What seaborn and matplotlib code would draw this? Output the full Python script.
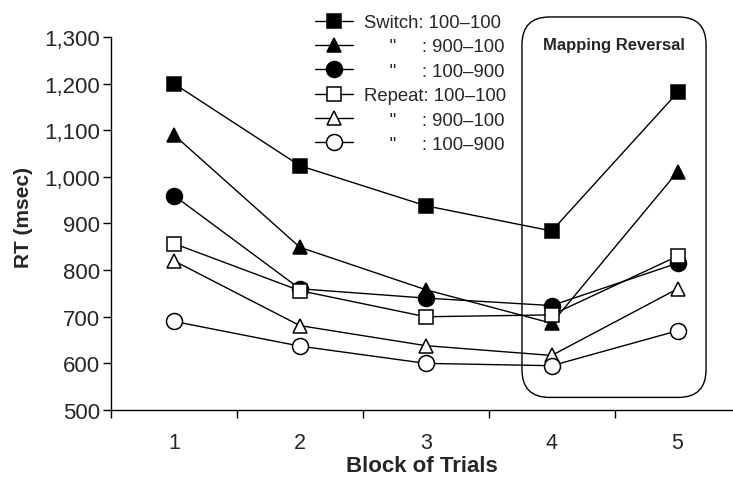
import numpy as np
import pandas as pd
import seaborn as sns
import matplotlib.pyplot as plt
from matplotlib.patches import FancyBboxPatch
from matplotlib.ticker import FuncFormatter

# Data
blocks = [1, 2, 3, 4, 5]
switch_100_100 = [1200, 1024, 938, 884, 1181]
switch_900_100 = [1090, 849, 758, 686, 1011]
switch_100_900 = [960, 760, 740, 724, 815]
repeat_100_100 = [857, 756, 700, 704, 830]
repeat_900_100 = [820, 681, 638, 617, 760]
repeat_100_900 = [690, 637, 600, 595, 670]

labels = ['Switch: 100\u2013100',
          '     "     : 900\u2013100',
          '     "     : 100\u2013900',
          'Repeat: 100\u2013100',
          '     "     : 900\u2013100',
          '     "     : 100\u2013900']
series = [switch_100_100, switch_900_100, switch_100_900,
          repeat_100_100, repeat_900_100, repeat_100_900]
markers = ['s', '^', 'o', 's', '^', 'o']
fills = ['black', 'black', 'black', 'white', 'white', 'white']
sizes = [10.5, 10.5, 11.5, 10, 10.5, 11.5]

sns.set_style('white')
plt.rcParams['font.family'] = ['Liberation Sans', 'DejaVu Sans']

fig = plt.figure(figsize=(7.33, 4.81), dpi=100)
ax = fig.add_axes([111 / 733, 70 / 481, 622 / 733, 411 / 481])

for vals, lab, mk, fc, ms in zip(series, labels, markers, fills, sizes):
    sns.lineplot(x=blocks, y=vals, ax=ax, color='black', linewidth=1.0,
                 marker=mk, markersize=ms, markerfacecolor=fc,
                 markeredgecolor='black', markeredgewidth=1.1, label=lab)

ax.set_xlim(0.5, 5.44)
ax.set_ylim(500, 1381.5)

# x axis: labels at blocks, ticks between them
ax.set_xticks(blocks)
ax.set_xticks([0.5, 1.5, 2.5, 3.5, 4.5], minor=True)
ax.tick_params(axis='x', which='major', bottom=False, length=0,
               labelsize=15.5, pad=16)
ax.tick_params(axis='x', which='minor', bottom=True, length=5.5, width=1,
               direction='out', color='black')
ax.set_yticks(range(500, 1301, 100))
ax.yaxis.set_major_formatter(FuncFormatter(lambda v, p: f'{int(v):,}'))
ax.tick_params(axis='y', left=True, length=6, width=1, direction='out',
               labelsize=16, pad=2, color='black')

for s in ['top', 'right']:
    ax.spines[s].set_visible(False)
for s in ['left', 'bottom']:
    ax.spines[s].set_color('black')
    ax.spines[s].set_linewidth(1.0)
ax.spines['left'].set_bounds(500, 1300)

ax.set_xlabel('Block of Trials', fontsize=16, fontweight='bold')
ax.xaxis.set_label_coords(0.5, -0.11)
ax.set_ylabel('RT (msec)', fontsize=15, fontweight='bold')
ax.yaxis.set_label_coords(-0.126, 0.47)

# rounded box marking the mapping reversal
fig.canvas.draw()
bb = ax.get_window_extent()
px_x = bb.width / (5.44 - 0.5)
px_y = bb.height / (1381.5 - 500)
box = FancyBboxPatch((3.764, 527), 5.226 - 3.764, 1343 - 527,
                     boxstyle='round,pad=0,rounding_size=0.22',
                     mutation_aspect=px_x / px_y,
                     facecolor='none', edgecolor='black', linewidth=1.0,
                     clip_on=False, zorder=1)
ax.add_patch(box)
ax.text(4.495, 1283, 'Mapping Reversal', fontsize=12, fontweight='bold',
        ha='center', va='center')

ax.legend(loc='upper left', bbox_to_anchor=(204 / 622, 1 - 15 / 411),
          frameon=False, fontsize=13.3, handlelength=2.05, handletextpad=0.6,
          labelspacing=0.4, borderpad=0, borderaxespad=0)

fig.savefig('out.png', dpi=100)
